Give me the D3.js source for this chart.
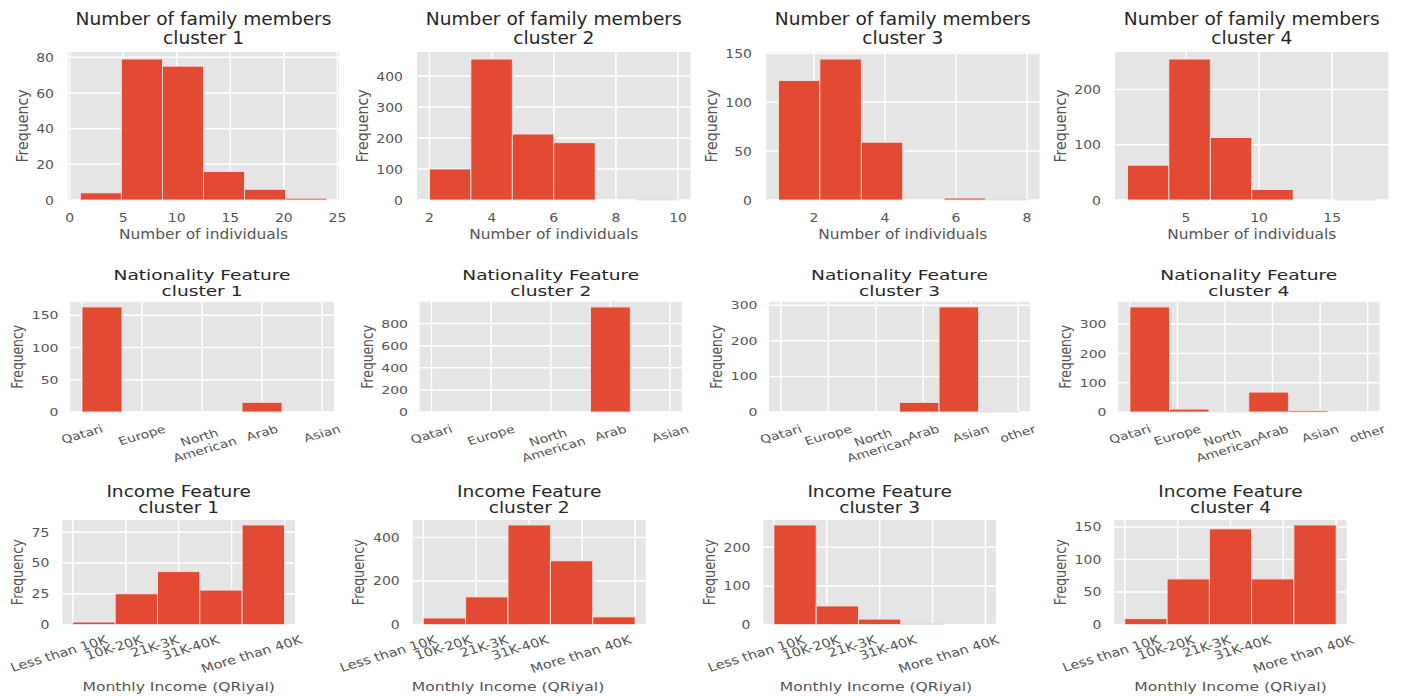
<!DOCTYPE html>
<html><head><meta charset="utf-8">
<script src="https://cdn.jsdelivr.net/npm/d3@7"></script>
<style>
body{margin:0;background:#fff;}
svg{display:block;}
text{font-family:"DejaVu Sans",sans-serif;}
</style>
</head><body>
<svg id="chart" width="1402" height="697"></svg>
<script>
// ---------------- DATA ----------------
const clusters = ["cluster 1","cluster 2","cluster 3","cluster 4"];

const famTitle = "Number of family members";
const famXLabel = "Number of individuals";
const famRange = [[1,24],[2,10],[1,8],[1,18]];          // histogram bin range (6 bins)
const famCounts = [
  [4,79,75,16,6,1],
  [100,455,213,185,0,1],
  [122,144,59,0,2,1],
  [63,255,113,19,0,1]
];
const famXTicks = [[0,5,10,15,20,25],[2,4,6,8,10],[2,4,6,8],[5,10,15]];
const famYTicks = [[0,20,40,60,80],[0,100,200,300,400],[0,50,100,150],[0,100,200]];

const natTitle = "Nationality Feature";
const natCats5 = ["Qatari","Europe","North\nAmerican","Arab","Asian"];
const natCats6 = ["Qatari","Europe","North\nAmerican","Arab","Asian","other"];
const natCats = [natCats5, natCats5, natCats6, natCats6];
const natRange = [[0,4],[0,4],[0,5],[0,5]];
const natCounts = [
  [163,0,0,0,15,0],
  [0,0,0,0,950,0],
  [0,0,0,27,295,1],
  [359,10,2,68,5,0]
];
const natYTicks = [[0,50,100,150],[0,200,400,600,800],[0,100,200,300],[0,100,200,300]];

const incTitle = "Income Feature";
const incXLabel = "Monthly Income (QRiyal)";
const incCats = ["Less than 10K","10K-20K","21K-3K","31K-40K","More than 40K"];
const incRange = [[0,4],[0,4],[0,4],[0,4]];
const incCounts = [
  [2,25,43,28,81],
  [30,127,458,293,35],
  [258,48,14,2,0],
  [9,70,147,70,153]
];
const incYTicks = [[0,25,50,75],[0,200,400],[0,100,200],[0,50,100,150]];
const incLabelPos = [-0.25,0.79,1.56,2.24,3.39];
const incLabelShift = [0,-0.4,-0.07,0];

// ---------------- LAYOUT ----------------
const rowLayout = [
  {top:52, bottom:200, sy:0.92, lefts:[68,417,766,1115], rights:[339,690.5,1039.5,1388.5],
   titleDy:[-27,-8], yGap:14},
  {top:301.7, bottom:412, sy:0.8, lefts:[70,419.5,769,1118], rights:[334,682,1030,1379.5],
   titleDy:[-22.2,-6.2], yGap:11.5},
  {top:520, bottom:624.5, sy:0.83, lefts:[62.3,412.7,763.3,1114.3], rights:[295,645.7,996,1346.7],
   titleDy:[-23.3,-6.7], yGap:13}
];
const C = {bg:"#E5E5E5", grid:"#FFFFFF", bar:"#E24A33", edge:"#F3E3DF", tick:"#555555", title:"#262626"};
const FS = {title:18.6, label:15.4, tick:14, natTick:14, incTick:14.5, incLabel:15.6};

const svg = d3.select("#chart");

function sText(parent, x, y, sy, str, o){
  const g = parent.append("g").attr("transform", `translate(${x},${y}) scale(1,${sy})` + (o.rotate ? ` rotate(${o.rotate})` : ""));
  const t = g.append("text").attr("text-anchor", o.anchor || "middle")
    .attr("fill", o.color || C.tick).style("font-size", o.size + "px").text(str);
  if (o.dy) t.attr("dy", o.dy);
  return t;
}

function rotLabel(parent, x, yTop, sy, str, size, angle){
  const g = parent.append("g").attr("transform", `translate(${x},${yTop}) scale(1,${sy})`);
  const t = g.append("text").attr("text-anchor","middle").attr("fill", C.tick).style("font-size", size + "px");
  str.split("\n").forEach((l,i)=> t.append("tspan").attr("x",0).attr("dy", i ? "1.15em" : 0).text(l));
  const b = t.node().getBBox();
  const cx = b.x + b.width/2, cy = b.y + b.height/2;
  const a = angle*Math.PI/180;
  const H = b.width*Math.sin(a) + b.height*Math.cos(a);
  t.attr("transform", `translate(0,${H/2}) rotate(${-angle}) translate(${-cx},${-cy})`);
}

function drawPanel(p){
  const L = p.layout, i = p.col;
  const left = L.lefts[i], right = L.rights[i], top = L.top, bottom = L.bottom, sy = L.sy;
  const [lo, hi] = p.range;
  const pad = 0.05*(hi-lo);
  const x = d3.scaleLinear().domain([lo-pad, hi+pad]).range([left, right]);
  const y = d3.scaleLinear().domain([0, d3.max(p.counts)*1.05]).range([bottom, top]);
  const g = svg.append("g");
  g.append("rect").attr("x", left).attr("y", top).attr("width", right-left).attr("height", bottom-top).attr("fill", C.bg);
  // grid
  g.selectAll(".gx").data(p.xGrid).join("line")
    .attr("x1", d=>x(d)).attr("x2", d=>x(d)).attr("y1", top).attr("y2", bottom)
    .attr("stroke", C.grid).attr("stroke-width", 1.5);
  g.selectAll(".gy").data(p.yTicks).join("line")
    .attr("x1", left).attr("x2", right).attr("y1", d=>y(d)).attr("y2", d=>y(d))
    .attr("stroke", C.grid).attr("stroke-width", 1.5);
  // bars
  const n = p.counts.length, w = (hi-lo)/n;
  const bins = p.counts.map((c,k)=>({x0: lo + k*w, x1: lo + (k+1)*w, c}));
  g.selectAll(".bar").data(bins.filter(d=>d.c>0)).join("rect")
    .attr("x", d=>x(d.x0)).attr("width", d=>x(d.x1)-x(d.x0))
    .attr("y", d=>y(d.c)).attr("height", d=>y(0)-y(d.c))
    .attr("fill", C.bar).attr("stroke", C.edge).attr("stroke-width", 0.9);
  // y ticks
  let maxW = 0;
  p.yTicks.forEach(v=>{
    const t = sText(g, left - L.yGap, y(v), sy, String(v), {size:FS.tick, anchor:"end", dy:"0.36em"});
    maxW = Math.max(maxW, t.node().getComputedTextLength());
  });
  // y label
  sText(g, left - L.yGap - maxW - 8.5, (top+bottom)/2, sy, "Frequency", {size:FS.label, rotate:-90});
  // titles
  const cx = (left+right)/2;
  sText(g, cx, top + L.titleDy[0], sy, p.title, {size:FS.title, color:C.title});
  sText(g, cx, top + L.titleDy[1], sy, clusters[i], {size:FS.title, color:C.title});
  // x tick labels + x label
  if (p.kind === "fam"){
    p.xTicks.forEach(v=> sText(g, x(v), bottom + 22, sy, String(v), {size:FS.tick}));
    sText(g, cx, 239.3, sy, famXLabel, {size:FS.label});
  } else if (p.kind === "nat"){
    p.cats.forEach((c,k)=> rotLabel(g, x(k), bottom + 10, sy, c, FS.natTick, 20));
  } else {
    const sh = incLabelShift[i];
    p.cats.forEach((c,k)=> rotLabel(g, x(incLabelPos[k] + sh), bottom + 8, sy, c, FS.incTick, 20));
    sText(g, x(2 + sh), 690.7, sy, incXLabel, {size:FS.incLabel});
  }
}

for (let i=0;i<4;i++){
  drawPanel({kind:"fam", layout:rowLayout[0], col:i, range:famRange[i], counts:famCounts[i],
    xGrid:famXTicks[i], xTicks:famXTicks[i], yTicks:famYTicks[i], title:famTitle});
  drawPanel({kind:"nat", layout:rowLayout[1], col:i, range:natRange[i], counts:natCounts[i],
    xGrid:d3.range(natCats[i].length), cats:natCats[i], yTicks:natYTicks[i], title:natTitle});
  drawPanel({kind:"inc", layout:rowLayout[2], col:i, range:incRange[i], counts:incCounts[i],
    xGrid:d3.range(incCats.length), cats:incCats, yTicks:incYTicks[i], title:incTitle});
}
</script>
</body></html>
